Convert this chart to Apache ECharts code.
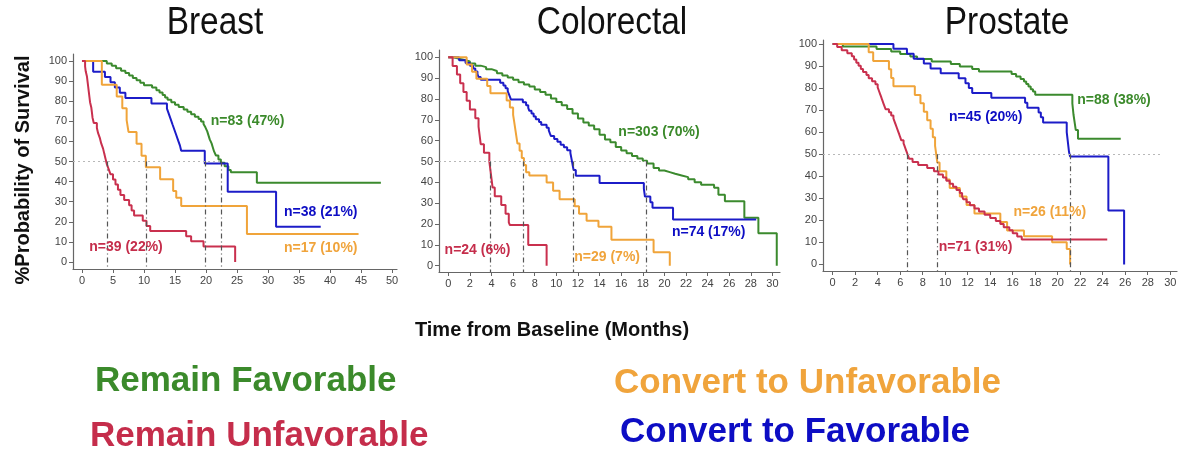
<!DOCTYPE html>
<html><head><meta charset="utf-8">
<script src="https://cdn.jsdelivr.net/npm/echarts@6/dist/echarts.min.js"></script>
<style>html,body{margin:0;padding:0;background:#fff}#c{width:1200px;height:455px}</style>
</head><body><div id="c"></div>
<script>
// ================= DATA =================
const panelTitles = ['Breast', 'Colorectal', 'Prostate'];
const groupNames = ['Remain Favorable', 'Convert to Favorable', 'Convert to Unfavorable', 'Remain Unfavorable'];
const yTickValues = [0, 10, 20, 30, 40, 50, 60, 70, 80, 90, 100];
const breastXTicks = [0, 5, 10, 15, 20, 25, 30, 35, 40, 45, 50];
const colorectalXTicks = [0, 2, 4, 6, 8, 10, 12, 14, 16, 18, 20, 22, 24, 26, 28, 30];
const prostateXTicks = [0, 2, 4, 6, 8, 10, 12, 14, 16, 18, 20, 22, 24, 26, 28, 30];
const medianLevel = 50;

// Breast: [months, % survival]
const breastRemainFav = [[0,100],[4.0,98.8],[4.8,97.6],[5.5,96.4],[6.3,95.2],[7.0,94.0],[7.6,92.8],[8.2,91.6],[8.8,90.4],[9.4,89.2],[10.0,88.0],[11.3,86.8],[12.0,85.5],[12.5,84.3],[13.0,83.1],[13.4,81.9],[13.8,80.7],[14.4,79.5],[15.0,78.3],[15.6,77.1],[16.4,75.9],[17.0,74.7],[17.6,73.5],[18.2,72.3],[18.8,71.1],[19.2,69.9],[19.6,68.7],[19.9,67.0],[20.2,65.0],[20.4,63.0],[20.6,61.0],[20.9,59.0],[21.1,57.0],[21.3,55.0],[21.6,53.0],[22.0,51.0],[22.4,49.4],[23.0,47.6],[23.6,45.8],[24.0,44.6],[28.2,39.4],[48.2,39.4]];
const breastToFav = [[0,100],[1.8,94.7],[3.7,92.1],[4.6,89.5],[5.3,86.8],[6.1,84.2],[7.0,81.6],[11.2,78.9],[13.7,76.3],[14.0,73.7],[14.3,71.1],[14.6,68.4],[14.9,65.8],[15.2,63.2],[15.5,60.5],[15.8,57.9],[16.0,55.3],[19.8,49.0],[23.5,35.0],[31.3,17.5],[38.5,17.5]];
const breastToUnfav = [[0,100],[3.2,88.2],[5.6,82.4],[6.5,76.5],[7.2,70.6],[7.5,64.7],[8.8,58.8],[9.6,52.9],[10.3,47.1],[12.6,41.2],[14.7,35.3],[15.2,32.0],[16.0,27.8],[26.6,13.9],[44.6,13.9]];
const breastRemainUnfav = [[0,100],[0.5,97.4],[0.6,94.9],[0.8,92.3],[0.9,89.7],[1.0,87.2],[1.1,84.6],[1.2,82.1],[1.3,79.5],[1.5,76.9],[1.6,74.4],[1.7,71.8],[1.9,69.2],[2.4,66.7],[2.6,64.1],[2.9,61.5],[3.1,59.0],[3.4,56.4],[3.6,53.8],[3.8,51.3],[4.0,48.7],[4.3,46.2],[4.6,43.6],[5.0,41.0],[5.4,38.5],[5.8,35.9],[6.2,33.3],[6.8,30.8],[7.6,28.2],[8.0,25.6],[8.4,23.1],[9.8,20.5],[10.4,17.9],[11.0,15.4],[16.8,12.8],[17.6,10.3],[19.6,7.7],[24.7,7.7],[24.7,0]];
const breastCounts = ['n=83 (47%)', 'n=38 (21%)', 'n=17 (10%)', 'n=39 (22%)'];
const breastMedians = [22.4, 19.8, 10.3, 4.0];

// Colorectal
const crcRemainFav = [[0,100],[0.5,99.3],[1.0,98.7],[1.5,98.0],[2.0,97.0],[2.5,96.0],[3.0,95.3],[3.5,94.3],[4.0,93.4],[4.5,92.4],[5.0,91.3],[5.5,90.3],[6.0,89.2],[6.5,88.0],[7.0,87.0],[7.5,86.0],[8.0,84.6],[8.5,83.4],[9.0,82.0],[9.5,80.2],[10.0,78.6],[10.5,77.0],[11.0,75.2],[11.5,73.0],[12.0,70.6],[12.5,68.7],[13.0,67.3],[13.5,65.5],[14.0,62.8],[14.5,60.6],[15.0,59.2],[15.5,57.0],[16.0,55.3],[16.5,54.0],[17.0,52.6],[17.5,51.5],[18.0,50.4],[18.4,49.0],[19.0,46.9],[19.5,45.7],[20.0,44.9],[20.5,44.1],[21.0,43.3],[21.6,42.5],[22.2,41.5],[22.8,40.0],[23.4,38.8],[24.6,37.4],[25.0,34.0],[25.6,31.0],[27.4,23.0],[28.7,15.6],[30.4,15.6],[30.4,0]];
const crcToFav = [[0,100],[1.0,98.6],[1.6,97.3],[2.0,95.9],[2.3,94.6],[2.5,93.2],[2.7,91.9],[2.8,90.5],[3.0,89.2],[4.8,87.8],[5.1,86.5],[5.3,85.1],[5.5,83.8],[5.6,82.4],[5.7,81.1],[5.8,79.7],[6.9,78.4],[7.2,77.0],[7.4,75.7],[7.5,74.3],[7.7,73.0],[7.9,71.6],[8.1,70.3],[8.4,68.9],[8.6,67.6],[9.1,66.2],[9.3,64.9],[9.4,63.5],[9.5,62.2],[9.8,60.8],[10.1,59.5],[10.4,58.1],[10.7,56.8],[11.0,55.4],[11.3,54.1],[11.4,51.4],[11.5,48.6],[11.6,45.9],[11.8,43.2],[14.0,39.7],[18.1,37.0],[18.2,33.2],[18.7,30.5],[18.9,27.8],[20.8,22.2],[28.5,22.2]];
const crcToUnfav = [[0,100],[1.7,96.6],[2.2,93.1],[2.6,89.7],[3.6,86.2],[3.9,82.8],[5.4,79.3],[5.7,75.9],[6.0,72.4],[6.1,69.0],[6.2,65.5],[6.3,62.1],[6.4,58.6],[6.6,55.2],[6.8,51.7],[7.0,48.3],[7.2,44.8],[7.5,43.3],[9.1,39.9],[9.7,36.0],[10.3,31.9],[11.7,28.5],[12.1,25.0],[12.8,21.6],[13.9,18.7],[15.1,12.5],[19.0,6.5],[20.5,6.5],[20.5,0]];
const crcRemainUnfav = [[0,100],[0.4,95.8],[0.8,91.7],[1.1,87.5],[1.4,83.3],[1.7,79.2],[2.0,75.0],[2.5,70.8],[2.8,66.7],[2.9,62.5],[3.0,58.3],[3.3,54.2],[3.8,50.0],[3.9,45.8],[4.0,41.7],[4.1,37.5],[4.3,33.3],[4.9,29.2],[5.3,25.0],[5.6,20.8],[5.7,19.5],[7.4,10.0],[9.1,10.0],[9.1,0]];
const crcCounts = ['n=303 (70%)', 'n=74 (17%)', 'n=29 (7%)', 'n=24 (6%)'];
const crcMedians = [18.3, 11.6, 6.9, 3.9];

// Prostate
const prRemainFav = [[0,100],[0.9,98.9],[3.9,97.7],[5.2,96.6],[6.0,95.5],[6.9,94.3],[7.5,93.2],[8.8,92.0],[10.5,90.9],[11.3,89.8],[12.4,88.6],[13.0,87.5],[15.9,86.4],[16.3,85.2],[16.7,84.1],[17.0,83.0],[17.2,81.8],[17.4,80.7],[17.6,79.5],[17.8,78.4],[18.0,77.0],[21.3,73.0],[21.4,68.0],[21.5,64.5],[21.6,61.0],[21.8,57.0],[25.6,57.0]];
const prToFav = [[0,100],[5.4,97.8],[6.6,95.6],[7.2,93.3],[8.1,91.1],[8.7,88.9],[9.6,86.7],[11.2,84.4],[11.8,82.2],[12.1,80.0],[12.4,77.8],[14.1,75.6],[17.1,73.3],[17.3,71.1],[18.3,68.9],[18.5,66.7],[18.7,64.4],[20.8,60.0],[20.9,55.6],[21.0,51.1],[21.1,48.9],[24.5,24.4],[25.9,24.4],[25.9,0]];
const prToUnfav = [[0,100],[3.2,96.2],[3.6,92.3],[5.0,88.5],[5.2,84.6],[5.4,80.8],[7.3,76.9],[7.8,73.1],[8.1,69.2],[8.4,65.4],[8.7,61.5],[8.9,57.7],[9.1,53.8],[9.2,50.0],[9.3,46.2],[9.5,42.3],[10.1,38.5],[10.4,34.6],[11.3,30.8],[11.9,26.9],[12.6,23.1],[14.9,19.2],[15.5,15.4],[17.0,12.8],[19.5,10.0],[20.8,7.0],[21.1,7.0],[21.1,0]];
const prRemainUnfav = [[0,100],[0.4,98.6],[0.8,97.2],[1.3,95.8],[1.7,94.4],[1.9,93.0],[2.1,91.5],[2.3,90.1],[2.5,88.7],[2.7,87.3],[3.0,85.9],[3.2,84.5],[3.5,83.1],[3.8,81.7],[4.0,80.3],[4.1,78.9],[4.2,77.5],[4.3,76.1],[4.4,74.6],[4.5,73.2],[4.6,71.8],[4.7,70.4],[5.0,69.0],[5.2,67.6],[5.4,66.2],[5.5,64.8],[5.6,63.4],[5.7,62.0],[5.8,60.6],[5.9,59.2],[6.0,57.7],[6.1,56.3],[6.3,54.9],[6.4,53.5],[6.5,52.1],[6.6,50.7],[6.7,49.3],[6.8,47.9],[7.1,46.5],[7.6,45.1],[8.4,43.7],[9.0,42.3],[9.4,40.8],[9.8,39.4],[10.1,38.0],[10.4,36.6],[10.7,35.2],[11.0,33.8],[11.3,32.4],[11.5,31.0],[11.6,29.6],[11.9,28.2],[12.2,26.8],[12.6,25.4],[13.0,24.0],[13.5,22.5],[14.0,21.1],[14.5,19.7],[14.9,18.3],[15.2,16.9],[15.7,15.5],[16.0,14.1],[16.4,12.7],[16.8,11.3],[24.4,11.3]];
const prCounts = ['n=88 (38%)', 'n=45 (20%)', 'n=26 (11%)', 'n=71 (31%)'];
const prMedians = [21.1, 21.1, 9.25, 6.6];

const xAxisTitle = 'Time from Baseline (Months)';
const yAxisTitle = '%Probability of Survival';

// ================= LAYOUT / STYLE =================
const lineColors = ['#3b8a2e', '#1c1cc8', '#f0a43a', '#c9304e'];
const textColors = ['#3b8a2b', '#0d0dc4', '#f0a43c', '#c52d4b'];
const FONT = 'Liberation Sans';

const panelLayout = [
  { grid: {left: 73, top: 54, width: 324, height: 215}, x: [-1.45, 50.8], y: [-3.5, 103.5], hEnd: 22.4,
    labelAt: [[26.7, 70.1], [38.5, 25.0], [38.5, 6.8], [7.1, 7.6]], titleX: 215 },
  { grid: {left: 439, top: 50, width: 341, height: 222}, x: [-0.86, 30.7], y: [-3.0, 103.5], hEnd: 18.3,
    labelAt: [[19.5, 64.3], [24.1, 15.9], [14.7, 4.2], [2.7, 7.3]], titleX: 612 },
  { grid: {left: 823, top: 40, width: 354, height: 231}, x: [-0.86, 30.6], y: [-3.0, 101.8], hEnd: 29.3,
    labelAt: [[25.0, 74.7], [13.6, 66.8], [19.3, 23.5], [12.7, 8.0]], titleX: 1007 }
];
// legend item placement (left edge of text, vertical centre), order = groupNames
const legendPlace = [[95, 381], [620, 432], [614, 383], [90, 436]];

const panelData = [
  { curves: [breastRemainFav, breastToFav, breastToUnfav, breastRemainUnfav], counts: breastCounts, medians: breastMedians, xticks: breastXTicks },
  { curves: [crcRemainFav, crcToFav, crcToUnfav, crcRemainUnfav], counts: crcCounts, medians: crcMedians, xticks: colorectalXTicks },
  { curves: [prRemainFav, prToFav, prToUnfav, prRemainUnfav], counts: prCounts, medians: prMedians, xticks: prostateXTicks }
];

const axisColor = '#666';
const grids = [], xAxes = [], yAxes = [], series = [];

panelData.forEach((pd, i) => {
  const L = panelLayout[i];
  grids.push(Object.assign({containLabel: false}, L.grid));
  xAxes.push({
    type: 'value', gridIndex: i, min: L.x[0], max: L.x[1],
    splitLine: {show: false},
    axisLine: {show: true, onZero: false, lineStyle: {color: axisColor, width: 1.2}},
    axisTick: {show: true, customValues: pd.xticks, length: 4, lineStyle: {color: axisColor}},
    axisLabel: {customValues: pd.xticks, color: '#444', fontSize: 11, fontFamily: FONT, margin: 6}
  });
  yAxes.push({
    type: 'value', gridIndex: i, min: L.y[0], max: L.y[1],
    splitLine: {show: false},
    axisLine: {show: true, onZero: false, lineStyle: {color: axisColor, width: 1.2}},
    axisTick: {show: true, customValues: yTickValues, length: 4, lineStyle: {color: axisColor}},
    axisLabel: {customValues: yTickValues, color: '#444', fontSize: 11, fontFamily: FONT, margin: 6}
  });

  pd.curves.forEach((curve, g) => {
    const s = {
      name: groupNames[g], type: 'line', step: 'end', xAxisIndex: i, yAxisIndex: i,
      data: curve, showSymbol: false, symbol: 'none', animation: false, silent: true,
      lineStyle: {color: lineColors[g], width: 2}, itemStyle: {color: lineColors[g]},
      z: 3,
      markPoint: {
        symbol: 'circle', symbolSize: 0, animation: false, silent: true,
        label: {show: true, position: 'inside', formatter: pd.counts[g], color: textColors[g],
                fontSize: 14, fontWeight: 'bold', fontFamily: FONT},
        data: [{coord: L.labelAt[g], value: pd.counts[g]}]
      }
    };
    if (g === 0) {
      const ml = [[{coord: [L.x[0], medianLevel], lineStyle: {type: [2, 3], color: '#b8b8b8', width: 1}}, {coord: [L.hEnd, medianLevel]}]];
      const seen = {};
      pd.medians.forEach(m => {
        if (seen[m]) return; seen[m] = true;
        ml.push([{coord: [m, medianLevel], lineStyle: {type: [5, 3, 1, 3], color: '#555', width: 1.2}}, {coord: [m, L.y[0]]}]);
      });
      s.markLine = {symbol: 'none', silent: true, animation: false, label: {show: false}, data: ml};
    }
    series.push(s);
  });
});

const graphic = [];
panelTitles.forEach((t, i) => {
  graphic.push({type: 'text', x: panelLayout[i].titleX, y: 24, scaleX: 0.88,
    style: {text: t, fill: '#111', font: '38px "' + FONT + '"', textAlign: 'center', textVerticalAlign: 'middle'}});
});
graphic.push({type: 'text', x: 552, y: 330,
  style: {text: xAxisTitle, fill: '#111', font: 'bold 20px "' + FONT + '"', textAlign: 'center', textVerticalAlign: 'middle'}});
graphic.push({type: 'text', x: 23, y: 170, rotation: Math.PI / 2,
  style: {text: yAxisTitle, fill: '#111', font: 'bold 20px "' + FONT + '"', textAlign: 'center', textVerticalAlign: 'middle'}});

const legends = groupNames.map((name, g) => ({
  left: legendPlace[g][0] - 5, top: legendPlace[g][1] - 20, orient: 'horizontal', padding: 0,
  icon: 'none', itemWidth: 0, itemHeight: 0, selectedMode: false,
  textStyle: {fontSize: 35, fontWeight: 'bold', fontFamily: FONT, lineHeight: 40, color: textColors[g]},
  data: [{name: name, textStyle: {color: textColors[g]}}]
}));

const chart = echarts.init(document.getElementById('c'), null, {renderer: 'canvas'});
chart.setOption({
  animation: false,
  backgroundColor: '#fff',
  grid: grids, xAxis: xAxes, yAxis: yAxes, series: series,
  legend: legends, graphic: graphic
});
</script></body></html>
